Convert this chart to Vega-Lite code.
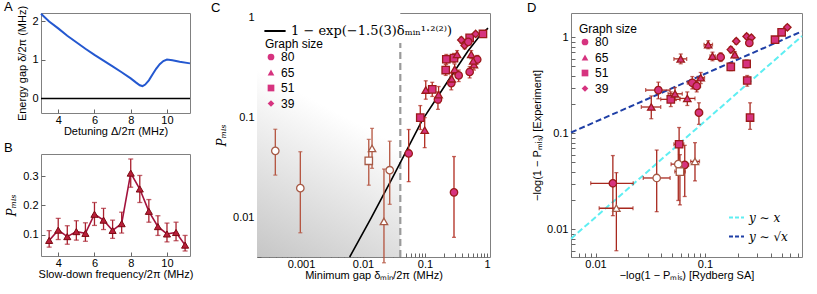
{
  "$schema": "https://vega.github.io/schema/vega-lite/v6.json",
  "padding": {"left": 3, "top": 0, "right": 0, "bottom": 0},
  "background": "white",
  "config": {
    "font": "Liberation Sans",
    "view": {"stroke": "#808080", "strokeWidth": 1},
    "axis": {"grid": false, "domain": false, "labelFontSize": 11, "titleFontSize": 11, "titleFontWeight": "normal", "tickColor": "#666", "tickSize": -4, "labelColor": "black", "titleColor": "black"},
    "axisX": {"titlePadding": 0, "labelPadding": 5.5},
    "axisY": {"titlePadding": 4, "labelPadding": 7},
    "legend": {"labelFontSize": 12, "titleFontSize": 12, "titleFontWeight": "normal", "labelColor": "black", "titleColor": "black", "labelLimit": 400},
    "text": {"font": "Liberation Sans", "fontSize": 13, "align": "left", "baseline": "middle", "color": "black"}
  },
  "datasets": {
    "gap": [
      {"x": 3.05, "y": 2.2}, {"x": 3.5, "y": 2.0}, {"x": 4.0, "y": 1.82}, {"x": 4.5, "y": 1.63}, {"x": 5.0, "y": 1.46},
      {"x": 5.5, "y": 1.29}, {"x": 6.0, "y": 1.13}, {"x": 6.5, "y": 0.98}, {"x": 7.0, "y": 0.83}, {"x": 7.5, "y": 0.68},
      {"x": 8.0, "y": 0.52}, {"x": 8.3, "y": 0.41}, {"x": 8.5, "y": 0.34}, {"x": 8.65, "y": 0.32}, {"x": 8.8, "y": 0.36},
      {"x": 9.0, "y": 0.47}, {"x": 9.2, "y": 0.62}, {"x": 9.4, "y": 0.77}, {"x": 9.6, "y": 0.89}, {"x": 9.8, "y": 0.97},
      {"x": 10.0, "y": 1.01}, {"x": 10.3, "y": 0.99}, {"x": 10.7, "y": 0.95}, {"x": 11.27, "y": 0.91}
    ],
    "slow": [
      {"x": 3.5, "y": 0.081, "lo": 0.058, "hi": 0.114}, {"x": 4.0, "y": 0.116, "lo": 0.084, "hi": 0.156},
      {"x": 4.5, "y": 0.094, "lo": 0.068, "hi": 0.131}, {"x": 5.0, "y": 0.111, "lo": 0.082, "hi": 0.148},
      {"x": 5.5, "y": 0.105, "lo": 0.078, "hi": 0.141}, {"x": 6.0, "y": 0.170, "lo": 0.132, "hi": 0.210},
      {"x": 6.5, "y": 0.150, "lo": 0.118, "hi": 0.190}, {"x": 7.0, "y": 0.115, "lo": 0.088, "hi": 0.150},
      {"x": 7.5, "y": 0.138, "lo": 0.106, "hi": 0.177}, {"x": 8.0, "y": 0.310, "lo": 0.262, "hi": 0.358},
      {"x": 8.5, "y": 0.256, "lo": 0.210, "hi": 0.302}, {"x": 9.0, "y": 0.180, "lo": 0.143, "hi": 0.220},
      {"x": 9.5, "y": 0.128, "lo": 0.098, "hi": 0.165}, {"x": 10.0, "y": 0.103, "lo": 0.076, "hi": 0.140},
      {"x": 10.5, "y": 0.108, "lo": 0.080, "hi": 0.143}, {"x": 11.0, "y": 0.065, "lo": 0.045, "hi": 0.098}
    ],
    "fit": [
      {"d": 0.0061, "p": 0.004}, {"d": 0.0135, "p": 0.0098}, {"d": 0.03, "p": 0.025}, {"d": 0.09, "p": 0.094},
      {"d": 0.235, "p": 0.233}, {"d": 0.494, "p": 0.466}, {"d": 0.75, "p": 0.65}, {"d": 1.04, "p": 0.79}
    ],
    "pc": [
      {"d": 0.000385, "p": 0.0464, "lo": 0.0265, "hi": 0.0764, "n": "80", "o": 1},
      {"d": 0.000975, "p": 0.0196, "lo": 0.0070, "hi": 0.0455, "n": "80", "o": 1},
      {"d": 0.0124, "p": 0.0369, "lo": 0.021, "hi": 0.0605, "n": "51", "o": 1},
      {"d": 0.0140, "p": 0.049, "lo": 0.031, "hi": 0.078, "n": "65", "o": 1},
      {"d": 0.0270, "p": 0.0297, "lo": 0.0135, "hi": 0.058, "n": "80", "o": 1},
      {"d": 0.0218, "p": 0.0091, "lo": 0.0035, "hi": 0.0305, "n": "65", "o": 1},
      {"d": 0.0546, "p": 0.0437, "lo": 0.0228, "hi": 0.076, "n": "80", "o": 0},
      {"d": 0.294, "p": 0.0178, "lo": 0.0063, "hi": 0.0407, "n": "80", "o": 0},
      {"d": 0.099, "p": 0.0747, "lo": 0.05, "hi": 0.10, "n": "65", "o": 0},
      {"d": 0.084, "p": 0.100, "lo": 0.076, "hi": 0.132, "n": "51", "o": 0},
      {"d": 0.103, "p": 0.189, "lo": 0.153, "hi": 0.234, "n": "65", "o": 0},
      {"d": 0.131, "p": 0.192, "lo": 0.163, "hi": 0.226, "n": "51", "o": 0},
      {"d": 0.162, "p": 0.152, "lo": 0.121, "hi": 0.181, "n": "80", "o": 0},
      {"d": 0.166, "p": 0.170, "lo": 0.140, "hi": 0.205, "n": "65", "o": 0},
      {"d": 0.216, "p": 0.300, "lo": 0.265, "hi": 0.34, "n": "51", "o": 0},
      {"d": 0.221, "p": 0.385, "lo": 0.345, "hi": 0.43, "n": "51", "o": 0},
      {"d": 0.294, "p": 0.395, "lo": 0.355, "hi": 0.44, "n": "51", "o": 0},
      {"d": 0.33, "p": 0.43, "lo": 0.39, "hi": 0.47, "n": "65", "o": 0},
      {"d": 0.301, "p": 0.305, "lo": 0.27, "hi": 0.345, "n": "65", "o": 0},
      {"d": 0.266, "p": 0.222, "lo": 0.19, "hi": 0.26, "n": "80", "o": 0},
      {"d": 0.27, "p": 0.245, "lo": 0.21, "hi": 0.28, "n": "65", "o": 0},
      {"d": 0.35, "p": 0.265, "lo": 0.23, "hi": 0.30, "n": "80", "o": 0},
      {"d": 0.386, "p": 0.60, "lo": 0.56, "hi": 0.64, "n": "39", "o": 0},
      {"d": 0.437, "p": 0.528, "lo": 0.49, "hi": 0.57, "n": "39", "o": 0},
      {"d": 0.526, "p": 0.63, "lo": 0.59, "hi": 0.67, "n": "51", "o": 0},
      {"d": 0.50, "p": 0.575, "lo": 0.54, "hi": 0.61, "n": "80", "o": 0},
      {"d": 0.657, "p": 0.69, "lo": 0.65, "hi": 0.72, "n": "39", "o": 0},
      {"d": 0.862, "p": 0.69, "lo": 0.655, "hi": 0.725, "n": "51", "o": 0},
      {"d": 0.558, "p": 0.43, "lo": 0.39, "hi": 0.47, "n": "65", "o": 0},
      {"d": 0.697, "p": 0.383, "lo": 0.345, "hi": 0.42, "n": "80", "o": 0},
      {"d": 0.617, "p": 0.34, "lo": 0.30, "hi": 0.38, "n": "65", "o": 0},
      {"d": 0.526, "p": 0.287, "lo": 0.25, "hi": 0.325, "n": "80", "o": 0},
      {"d": 0.6, "p": 0.37, "lo": 0.33, "hi": 0.41, "n": "65", "o": 0}
    ],
    "pd": [
      {"x": 0.0323, "y": 0.188, "xl": 0.0262, "xh": 0.0394, "yl": 0.142, "yh": 0.245, "n": "65", "o": 0},
      {"x": 0.0375, "y": 0.282, "xl": 0.0287, "xh": 0.048, "yl": 0.229, "yh": 0.341, "n": "80", "o": 0},
      {"x": 0.0487, "y": 0.226, "xl": 0.0394, "xh": 0.059, "yl": 0.19, "yh": 0.27, "n": "51", "o": 0},
      {"x": 0.0532, "y": 0.258, "xl": 0.046, "xh": 0.062, "yl": 0.22, "yh": 0.30, "n": "65", "o": 0},
      {"x": 0.0689, "y": 0.231, "xl": 0.059, "xh": 0.081, "yl": 0.195, "yh": 0.27, "n": "65", "o": 0},
      {"x": 0.0765, "y": 0.336, "xl": 0.069, "xh": 0.085, "yl": 0.29, "yh": 0.39, "n": "80", "o": 0},
      {"x": 0.0914, "y": 0.379, "xl": 0.085, "xh": 0.099, "yl": 0.33, "yh": 0.43, "n": "65", "o": 0},
      {"x": 0.084, "y": 0.31, "xl": 0.077, "xh": 0.091, "yl": 0.27, "yh": 0.355, "n": "80", "o": 0},
      {"x": 0.088, "y": 0.164, "xl": 0.082, "xh": 0.095, "yl": 0.124, "yh": 0.208, "n": "80", "o": 0},
      {"x": 0.060, "y": 0.596, "xl": 0.052, "xh": 0.068, "yl": 0.53, "yh": 0.67, "n": "65", "o": 0},
      {"x": 0.107, "y": 0.838, "xl": 0.098, "xh": 0.117, "yl": 0.76, "yh": 0.92, "n": "65", "o": 0},
      {"x": 0.117, "y": 0.635, "xl": 0.111, "xh": 0.124, "yl": 0.57, "yh": 0.70, "n": "65", "o": 0},
      {"x": 0.139, "y": 0.621, "xl": 0.132, "xh": 0.146, "yl": 0.56, "yh": 0.69, "n": "80", "o": 0},
      {"x": 0.172, "y": 0.744, "xl": 0.166, "xh": 0.178, "yl": 0.69, "yh": 0.80, "n": "39", "o": 0},
      {"x": 0.193, "y": 0.91, "xl": 0.186, "xh": 0.20, "yl": 0.85, "yh": 0.97, "n": "39", "o": 0},
      {"x": 0.187, "y": 0.66, "xl": 0.18, "xh": 0.194, "yl": 0.61, "yh": 0.71, "n": "65", "o": 0},
      {"x": 0.172, "y": 0.492, "xl": 0.166, "xh": 0.178, "yl": 0.45, "yh": 0.54, "n": "51", "o": 0},
      {"x": 0.24, "y": 0.529, "xl": 0.232, "xh": 0.248, "yl": 0.48, "yh": 0.58, "n": "51", "o": 0},
      {"x": 0.243, "y": 0.355, "xl": 0.236, "xh": 0.25, "yl": 0.31, "yh": 0.40, "n": "51", "o": 0},
      {"x": 0.258, "y": 0.146, "xl": 0.25, "xh": 0.266, "yl": 0.11, "yh": 0.208, "n": "51", "o": 0},
      {"x": 0.24, "y": 1.02, "xl": 0.232, "xh": 0.248, "yl": 0.96, "yh": 1.08, "n": "39", "o": 0},
      {"x": 0.265, "y": 0.99, "xl": 0.257, "xh": 0.273, "yl": 0.93, "yh": 1.05, "n": "39", "o": 0},
      {"x": 0.254, "y": 0.873, "xl": 0.246, "xh": 0.262, "yl": 0.82, "yh": 0.93, "n": "80", "o": 0},
      {"x": 0.436, "y": 0.944, "xl": 0.42, "xh": 0.45, "yl": 0.89, "yh": 1.0, "n": "51", "o": 0},
      {"x": 0.501, "y": 1.127, "xl": 0.485, "xh": 0.517, "yl": 1.06, "yh": 1.19, "n": "51", "o": 0},
      {"x": 0.565, "y": 1.27, "xl": 0.548, "xh": 0.582, "yl": 1.2, "yh": 1.34, "n": "39", "o": 0},
      {"x": 0.0144, "y": 0.0302, "xl": 0.00904, "xh": 0.0221, "yl": 0.0139, "yh": 0.0587, "n": "80", "o": 0},
      {"x": 0.0653, "y": 0.047, "xl": 0.06, "xh": 0.071, "yl": 0.022, "yh": 0.075, "n": "80", "o": 0},
      {"x": 0.058, "y": 0.077, "xl": 0.052, "xh": 0.064, "yl": 0.045, "yh": 0.115, "n": "51", "o": 0},
      {"x": 0.0155, "y": 0.0166, "xl": 0.0108, "xh": 0.022, "yl": 0.006, "yh": 0.039, "n": "65", "o": 1},
      {"x": 0.0362, "y": 0.0343, "xl": 0.0273, "xh": 0.048, "yl": 0.0153, "yh": 0.067, "n": "80", "o": 1},
      {"x": 0.057, "y": 0.0478, "xl": 0.049, "xh": 0.066, "yl": 0.02, "yh": 0.075, "n": "80", "o": 1},
      {"x": 0.059, "y": 0.040, "xl": 0.053, "xh": 0.066, "yl": 0.018, "yh": 0.06, "n": "51", "o": 1},
      {"x": 0.081, "y": 0.051, "xl": 0.074, "xh": 0.089, "yl": 0.032, "yh": 0.08, "n": "65", "o": 1}
    ],
    "dlines": [
      {"x": 0.00597, "y": 0.008, "k": "y ∼ x"}, {"x": 0.769, "y": 1.03, "k": "y ∼ x"},
      {"x": 0.00597, "y": 0.102, "k": "y ∼ √x"}, {"x": 0.769, "y": 1.154, "k": "y ∼ √x"}
    ]
  },
  "bounds": "full",
  "spacing": 34,
  "resolve": {"scale": {"shape": "independent", "color": "independent"}, "legend": {"shape": "independent", "color": "independent"}},
  "hconcat": [
    {
      "bounds": "full",
      "spacing": 15,
      "resolve": {"scale": {"shape": "independent", "color": "independent"}, "legend": {"shape": "independent", "color": "independent"}},
      "hconcat": [
        {
          "bounds": "full",
          "spacing": 4,
          "vconcat": [
            {
              "width": 149, "height": 100,
              "layer": [
                {
                  "data": {"name": "gap"},
                  "mark": {"type": "line", "color": "#2458d0", "strokeWidth": 2},
                  "encoding": {
                    "x": {"field": "x", "type": "quantitative", "title": "Detuning Δ/2π (MHz)", "scale": {"domain": [3.05, 11.27], "nice": false, "zero": false}, "axis": {"values": [4, 6, 8, 10]}},
                    "y": {"field": "y", "type": "quantitative", "title": "Energy gap δ/2π (MHz)", "scale": {"domain": [-0.38, 2.22], "nice": false, "zero": false}, "axis": {"values": [0, 1, 2]}}
                  }
                },
                {
                  "data": {"values": [{}]},
                  "mark": {"type": "rule", "color": "black", "strokeWidth": 1.5},
                  "encoding": {"y": {"datum": 0, "type": "quantitative", "title": "Energy gap δ/2π (MHz)"}}
                },
                {
                  "data": {"values": [{"t": "A"}]},
                  "mark": {"type": "text"},
                  "encoding": {"text": {"field": "t"}, "x": {"datum": 1.01, "type": "quantitative", "title": "Detuning Δ/2π (MHz)"}, "y": {"datum": 2.376, "type": "quantitative", "title": "Energy gap δ/2π (MHz)"}}
                }
              ]
            },
            {
              "width": 149, "height": 102,
              "layer": [
                {
                  "data": {"name": "slow"},
                  "mark": {"type": "errorbar", "ticks": {"size": 5}, "color": "#a8202e", "thickness": 1.3},
                  "encoding": {
                    "x": {"field": "x", "type": "quantitative", "title": "Slow-down frequency/2π (MHz)", "scale": {"domain": [3.05, 11.27], "nice": false, "zero": false}, "axis": {"values": [4, 6, 8, 10]}},
                    "y": {"field": "lo", "type": "quantitative", "title": "Pₘᵢₛ", "scale": {"domain": [0.028, 0.375], "nice": false, "zero": false}, "axis": {"titleFont": "DejaVu Serif", "titleFontStyle": "italic", "titleFontSize": 12, "values": [0.1, 0.2, 0.3]}},
                    "y2": {"field": "hi"}
                  }
                },
                {
                  "data": {"name": "slow"},
                  "mark": {"type": "line", "color": "#a3123c", "strokeWidth": 1.6},
                  "encoding": {"x": {"field": "x", "type": "quantitative", "title": "Slow-down frequency/2π (MHz)"}, "y": {"field": "y", "type": "quantitative", "title": "Pₘᵢₛ"}}
                },
                {
                  "data": {"name": "slow"},
                  "mark": {"type": "point", "shape": "triangle-up", "filled": true, "size": 50, "fill": "#b81e3a", "stroke": "#7c0a12", "strokeWidth": 1, "opacity": 1},
                  "encoding": {"x": {"field": "x", "type": "quantitative", "title": "Slow-down frequency/2π (MHz)"}, "y": {"field": "y", "type": "quantitative", "title": "Pₘᵢₛ"}}
                },
                {
                  "data": {"values": [{"t": "B"}]},
                  "mark": {"type": "text"},
                  "encoding": {"text": {"field": "t"}, "x": {"datum": 1.01, "type": "quantitative", "title": "Slow-down frequency/2π (MHz)"}, "y": {"datum": 0.3954, "type": "quantitative", "title": "Pₘᵢₛ"}}
                }
              ]
            }
          ]
        },
        {
          "width": 233, "height": 244,
          "layer": [
            {
              "data": {"values": [{}]},
              "mark": {"type": "rect", "color": {"gradient": "linear", "x1": 0, "y1": 1, "x2": 0.22, "y2": 0.3, "stops": [{"offset": 0, "color": "#c6c6c6"}, {"offset": 1, "color": "#ffffff"}]}},
              "encoding": {
                "x": {"datum": 0.000195, "type": "quantitative", "title": "Minimum gap  δₘᵢₙ/2π (MHz)", "scale": {"type": "log", "domain": [0.000195, 1.12], "nice": false},
                      "axis": {"format": "~g",
                               "values": [0.0002,0.0003,0.0004,0.0005,0.0006,0.0007,0.0008,0.0009,0.001,0.002,0.003,0.004,0.005,0.006,0.007,0.008,0.009,0.01,0.02,0.03,0.04,0.05,0.06,0.07,0.08,0.09,0.1,0.2,0.3,0.4,0.5,0.6,0.7,0.8,0.9,1],
                               "labelExpr": "abs(log(datum.value)/LN10 - round(log(datum.value)/LN10)) < 0.001 ? datum.label : ''"}},
                "x2": {"datum": 0.04},
                "y": {"datum": 0.004, "type": "quantitative", "title": "Pₘᵢₛ", "scale": {"type": "log", "domain": [0.004, 1.12], "nice": false},
                      "axis": {"titleFont": "DejaVu Serif", "titleFontStyle": "italic", "titleFontSize": 12, "format": "~g",
                               "values": [0.004,0.005,0.006,0.007,0.008,0.009,0.01,0.02,0.03,0.04,0.05,0.06,0.07,0.08,0.09,0.1,0.2,0.3,0.4,0.5,0.6,0.7,0.8,0.9,1],
                               "labelExpr": "abs(log(datum.value)/LN10 - round(log(datum.value)/LN10)) < 0.001 ? datum.label : ''"}},
                "y2": {"datum": 1.12}
              }
            },
            {
              "data": {"values": [{}]},
              "mark": {"type": "rule", "color": "#9a9a9a", "strokeWidth": 2.2, "strokeDash": [7, 4]},
              "encoding": {"x": {"datum": 0.04, "type": "quantitative", "title": "Minimum gap  δₘᵢₙ/2π (MHz)"}, "y": {"datum": 0.004, "type": "quantitative", "title": "Pₘᵢₛ"}, "y2": {"datum": 0.56}}
            },
            {
              "data": {"name": "fit"},
              "mark": {"type": "line", "strokeWidth": 1.6},
              "encoding": {
                "x": {"field": "d", "type": "quantitative", "title": "Minimum gap  δₘᵢₙ/2π (MHz)"},
                "y": {"field": "p", "type": "quantitative", "title": "Pₘᵢₛ"},
                "color": {"datum": "1 − exp(−1.5(3)δₘᵢₙ¹·²⁽²⁾)", "scale": {"range": ["black"]},
                          "legend": {"title": null, "orient": "none", "legendX": 6, "legendY": 6, "symbolType": "stroke", "symbolSize": 450, "symbolStrokeWidth": 2, "labelFont": "DejaVu Serif", "labelFontSize": 13}}
              }
            },
            {
              "data": {"name": "pc"},
              "transform": [{"filter": "datum.o == 1"}],
              "mark": {"type": "errorbar", "ticks": {"size": 4}, "color": "#b4533e", "thickness": 1.3},
              "encoding": {"x": {"field": "d", "type": "quantitative", "title": "Minimum gap  δₘᵢₙ/2π (MHz)"}, "y": {"field": "lo", "type": "quantitative", "title": "Pₘᵢₛ"}, "y2": {"field": "hi"}}
            },
            {
              "data": {"name": "pc"},
              "transform": [{"filter": "datum.o == 0"}],
              "mark": {"type": "errorbar", "ticks": {"size": 4}, "color": "#b02a1e", "thickness": 1.3},
              "encoding": {"x": {"field": "d", "type": "quantitative", "title": "Minimum gap  δₘᵢₙ/2π (MHz)"}, "y": {"field": "lo", "type": "quantitative", "title": "Pₘᵢₛ"}, "y2": {"field": "hi"}}
            },
            {
              "data": {"name": "pc"},
              "mark": {"type": "point", "filled": true, "size": 55, "strokeWidth": 1.3, "opacity": 1},
              "encoding": {
                "x": {"field": "d", "type": "quantitative", "title": "Minimum gap  δₘᵢₙ/2π (MHz)"},
                "y": {"field": "p", "type": "quantitative", "title": "Pₘᵢₛ"},
                "shape": {"field": "n", "type": "nominal", "scale": {"domain": ["80", "65", "51", "39"], "range": ["circle", "triangle-up", "square", "diamond"]},
                          "legend": {"title": "Graph size", "orient": "none", "legendX": 8, "legendY": 26, "titlePadding": 0, "symbolFillColor": "#d6337f", "symbolStrokeColor": "#9c1a1a", "symbolStrokeWidth": 1.3, "symbolSize": 45, "rowPadding": 3.5}},
                "fill": {"condition": {"test": "datum.o == 1", "value": "white"}, "value": "#d6337f"},
                "stroke": {"condition": {"test": "datum.o == 1", "value": "#a65a46"}, "value": "#9c1a1a"}
              }
            },
            {
              "data": {"values": [{"t": "C"}]},
              "mark": {"type": "text"},
              "encoding": {"text": {"field": "t"}, "x": {"datum": 0.0000353, "type": "quantitative", "title": "Minimum gap  δₘᵢₙ/2π (MHz)"}, "y": {"datum": 1.257, "type": "quantitative", "title": "Pₘᵢₛ"}}
            }
          ]
        }
      ]
    },
    {
      "width": 231, "height": 244,
      "layer": [
        {
          "data": {"name": "dlines"},
          "mark": {"type": "line", "strokeWidth": 2, "strokeDash": [6, 3]},
          "encoding": {
            "x": {"field": "x", "type": "quantitative", "title": "−log(1 − Pₘᵢₛ) [Rydberg SA]", "scale": {"type": "log", "domain": [0.00597, 0.769], "nice": false},
                  "axis": {"format": "~g",
                           "values": [0.006,0.007,0.008,0.009,0.01,0.02,0.03,0.04,0.05,0.06,0.07,0.08,0.09,0.1,0.2,0.3,0.4,0.5,0.6,0.7],
                           "labelExpr": "abs(log(datum.value)/LN10 - round(log(datum.value)/LN10)) < 0.001 ? datum.label : ''"}},
            "y": {"field": "y", "type": "quantitative", "title": "−log(1 − Pₘᵢₛ) [Experiment]", "scale": {"type": "log", "domain": [0.00516, 1.79], "nice": false},
                  "axis": {"format": "~g",
                           "values": [0.006,0.007,0.008,0.009,0.01,0.02,0.03,0.04,0.05,0.06,0.07,0.08,0.09,0.1,0.2,0.3,0.4,0.5,0.6,0.7,0.8,0.9,1],
                           "labelExpr": "abs(log(datum.value)/LN10 - round(log(datum.value)/LN10)) < 0.001 ? datum.label : ''"}},
            "color": {"field": "k", "type": "nominal", "scale": {"domain": ["y ∼ x", "y ∼ √x"], "range": ["#5eeef2", "#1f3fa6"]},
                      "legend": {"title": null, "orient": "bottom-right", "offset": 14, "symbolType": "stroke", "symbolSize": 225, "symbolStrokeWidth": 2, "symbolDash": [4, 2], "labelFont": "DejaVu Serif", "labelFontStyle": "italic", "labelFontSize": 12, "rowPadding": 4}}
          }
        },
        {
          "data": {"name": "pd"},
          "mark": {"type": "errorbar", "ticks": {"size": 4}, "color": "#a8281e", "thickness": 1.3},
          "encoding": {"x": {"field": "x", "type": "quantitative", "title": "−log(1 − Pₘᵢₛ) [Rydberg SA]"}, "y": {"field": "yl", "type": "quantitative", "title": "−log(1 − Pₘᵢₛ) [Experiment]"}, "y2": {"field": "yh"}}
        },
        {
          "data": {"name": "pd"},
          "mark": {"type": "errorbar", "ticks": {"size": 4}, "color": "#a8281e", "thickness": 1.3},
          "encoding": {"y": {"field": "y", "type": "quantitative", "title": "−log(1 − Pₘᵢₛ) [Experiment]"}, "x": {"field": "xl", "type": "quantitative", "title": "−log(1 − Pₘᵢₛ) [Rydberg SA]"}, "x2": {"field": "xh"}}
        },
        {
          "data": {"name": "pd"},
          "mark": {"type": "point", "filled": true, "size": 55, "strokeWidth": 1.3, "opacity": 1},
          "encoding": {
            "x": {"field": "x", "type": "quantitative", "title": "−log(1 − Pₘᵢₛ) [Rydberg SA]"},
            "y": {"field": "y", "type": "quantitative", "title": "−log(1 − Pₘᵢₛ) [Experiment]"},
            "shape": {"field": "n", "type": "nominal", "scale": {"domain": ["80", "65", "51", "39"], "range": ["circle", "triangle-up", "square", "diamond"]},
                      "legend": {"title": "Graph size", "orient": "none", "legendX": 8, "legendY": 11, "titlePadding": 0, "symbolFillColor": "#d6337f", "symbolStrokeColor": "#9c1a1a", "symbolStrokeWidth": 1.3, "symbolSize": 45, "rowPadding": 3.5}},
            "fill": {"condition": {"test": "datum.o == 1", "value": "white"}, "value": "#d6337f"},
            "stroke": {"condition": {"test": "datum.o == 1", "value": "#a65a46"}, "value": "#9c1a1a"}
          }
        },
        {
          "data": {"values": [{"t": "D"}]},
          "mark": {"type": "text"},
          "encoding": {"text": {"field": "t"}, "x": {"datum": 0.002366, "type": "quantitative", "title": "−log(1 − Pₘᵢₛ) [Rydberg SA]"}, "y": {"datum": 2.018, "type": "quantitative", "title": "−log(1 − Pₘᵢₛ) [Experiment]"}}
        }
      ]
    }
  ]
}
